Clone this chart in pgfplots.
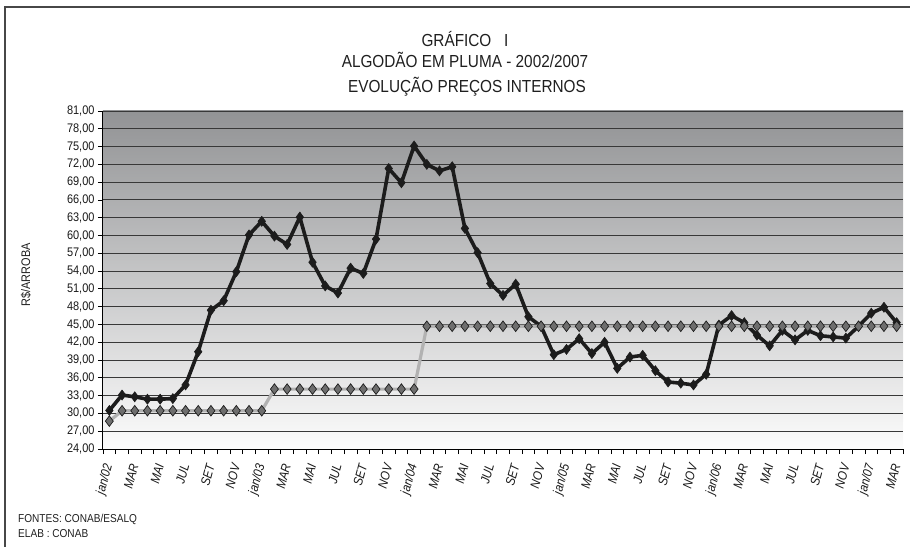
\documentclass[border=0pt]{standalone}
\usepackage{pgfplots}
\pgfplotsset{compat=1.18}
\usepackage{fontspec}
\setmainfont{Liberation Sans}[FakeStretch=0.88]
\definecolor{bgtop}{RGB}{146,147,149}
\definecolor{bgbot}{RGB}{252,252,252}
\definecolor{linedark}{RGB}{28,28,28}
\definecolor{mingray}{RGB}{178,178,178}
\definecolor{mkgray}{RGB}{110,110,110}
\begin{document}
\begin{tikzpicture}
\useasboundingbox (-103bp,-98bp) rectangle (807bp,449bp);
\draw[color=black!72, line width=1.6bp] (-98bp,-110bp) -- (-98bp,442bp) -- (820bp,442bp);
\begin{axis}[
  at={(0,0)}, anchor=south west,
  width=800bp, height=338bp, scale only axis,
  xmin=-0.5, xmax=62.5, ymin=24, ymax=81,
  axis x line*=bottom, axis y line*=left,
  axis line style={-, black, line width=1bp},
  axis background/.style={top color=bgtop, bottom color=bgbot},
  ytick={24,27,...,81},
  ymajorgrids,
  major grid style={color=black!78, line width=0.9bp},
  xtick={0,2,...,62},
  xticklabels={jan/02,MAR,MAI,JUL,SET,NOV,jan/03,MAR,MAI,JUL,SET,NOV,jan/04,MAR,MAI,JUL,SET,NOV,jan/05,MAR,MAI,JUL,SET,NOV,jan/06,MAR,MAI,JUL,SET,NOV,jan/07,MAR},
  every major x tick/.append style={draw=none},
  minor xtick={-0.5,0.5,...,62.5},
  every minor x tick/.append style={black, line width=0.8bp},
  every major y tick/.append style={black, line width=0.8bp},
  tick align=outside,
  major tick length=5bp, minor tick length=5bp,
  xticklabel style={yshift=-9bp, rotate=75, anchor=east, font=\itshape\fontsize{13}{15}\selectfont, inner sep=1bp, color=black!90},
  yticklabel style={font=\fontsize{12.5}{14}\selectfont, color=black!90},
  /pgf/number format/.cd, fixed, fixed zerofill, precision=2, use comma, assume math mode=true,
]
\addplot[color=linedark, line width=3.6bp, mark=diamond*, mark size=5bp,
  mark options={fill=linedark, draw=linedark, line width=0.6bp}] coordinates {
(0,30.5)(1,33.1)(2,32.8)(3,32.4)(4,32.4)(5,32.5)(6,34.8)(7,40.4)(8,47.4)(9,49.0)
(10,53.9)(11,60.1)(12,62.4)(13,59.9)(14,58.5)(15,63.1)(16,55.5)(17,51.5)(18,50.3)(19,54.5)
(20,53.6)(21,59.4)(22,71.3)(23,68.9)(24,75.1)(25,72.0)(26,70.9)(27,71.6)(28,61.2)(29,57.1)
(30,51.9)(31,49.9)(32,51.8)(33,46.3)(34,44.7)(35,39.9)(36,40.8)(37,42.6)(38,40.1)(39,42.0)
(40,37.6)(41,39.5)(42,39.8)(43,37.2)(44,35.3)(45,35.1)(46,34.8)(47,36.6)(48,44.9)(49,46.5)
(50,45.3)(51,43.2)(52,41.4)(53,44.0)(54,42.4)(55,44.0)(56,43.1)(57,42.9)(58,42.7)(59,44.7)
(60,46.9)(61,47.9)(62,45.3)
};
\addplot[color=mingray, line width=3.2bp, mark=diamond*, mark size=5.3bp,
  mark options={fill=mkgray, draw=linedark, line width=0.7bp}] coordinates {
(0,28.7)(1,30.45)(2,30.45)(3,30.45)(4,30.45)(5,30.45)(6,30.45)(7,30.45)(8,30.45)(9,30.45)
(10,30.45)(11,30.45)(12,30.45)(13,34.1)(14,34.1)(15,34.1)(16,34.1)(17,34.1)(18,34.1)(19,34.1)
(20,34.1)(21,34.1)(22,34.1)(23,34.1)(24,34.1)(25,44.7)(26,44.7)(27,44.7)(28,44.7)(29,44.7)
(30,44.7)(31,44.7)(32,44.7)(33,44.7)(34,44.7)(35,44.7)(36,44.7)(37,44.7)(38,44.7)(39,44.7)
(40,44.7)(41,44.7)(42,44.7)(43,44.7)(44,44.7)(45,44.7)(46,44.7)(47,44.7)(48,44.7)(49,44.7)
(50,44.7)(51,44.7)(52,44.7)(53,44.7)(54,44.7)(55,44.7)(56,44.7)(57,44.7)(58,44.7)(59,44.7)
(60,44.7)(61,44.7)(62,44.7)
};
\end{axis}
\node[anchor=base, font=\fontsize{17.5}{20}\selectfont, color=black!88, inner sep=0] at (362bp,402bp) {GRÁFICO\ \ \ I};
\node[anchor=base, font=\fontsize{17.5}{20}\selectfont, color=black!88, inner sep=0] at (362bp,381bp) {ALGODÃO EM PLUMA - 2002/2007};
\node[anchor=base, font=\fontsize{17.5}{20}\selectfont, color=black!88, inner sep=0] at (364bp,356bp) {EVOLUÇÃO PREÇOS INTERNOS};
\node[rotate=90, font=\fontsize{12.5}{14}\selectfont, color=black!88, inner sep=0] at (-77bp,174bp) {R\$/ARROBA};
\node[anchor=base west, font=\fontsize{11.5}{13}\selectfont, color=black!88, inner sep=0] at (-85bp,-73bp) {FONTES: CONAB/ESALQ};
\node[anchor=base west, font=\fontsize{11.5}{13}\selectfont, color=black!88, inner sep=0] at (-85bp,-88bp) {ELAB : CONAB};
\end{tikzpicture}
\end{document}
